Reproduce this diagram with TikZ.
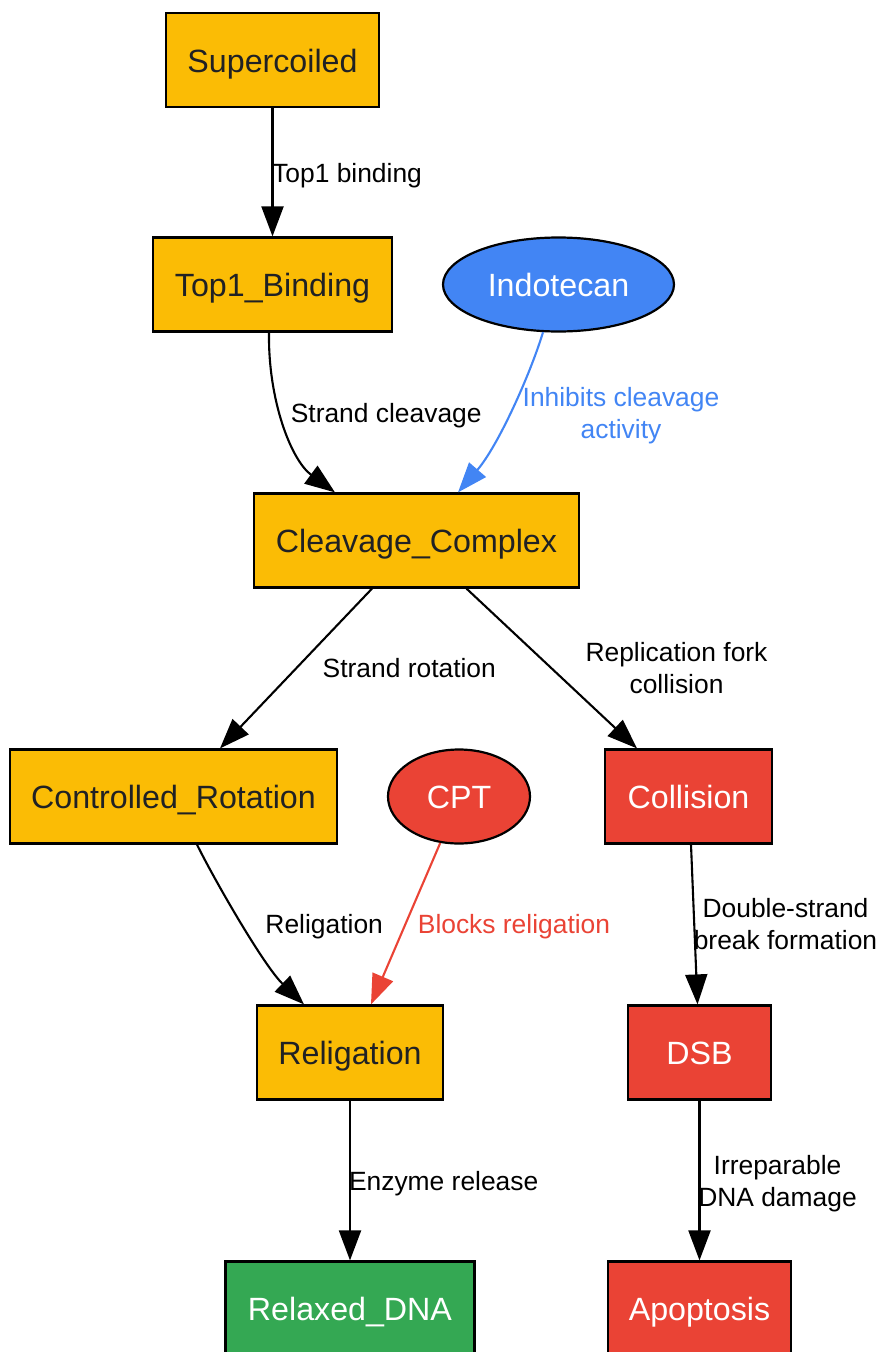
\documentclass[tikz,border=0pt]{standalone}
\usepackage{fontspec}
\setmainfont{Liberation Sans}
\usetikzlibrary{arrows.meta,shapes.geometric}
\definecolor{gorange}{HTML}{FBBC05}
\definecolor{gblue}{HTML}{4285F4}
\definecolor{gred}{HTML}{EA4335}
\definecolor{ggreen}{HTML}{34A853}
\definecolor{gtext}{HTML}{202124}
\tikzset{
  base/.style={draw=black, line width=2.2pt, inner sep=0pt,
    font=\fontsize{32.2}{38}\selectfont, text height=24.6pt, text depth=0pt,
    minimum height=94pt},
  ybox/.style={base, rectangle, fill=gorange, text=gtext},
  rbox/.style={base, rectangle, fill=gred, text=white},
  gbox/.style={base, rectangle, fill=ggreen, text=white},
  drug/.style={base, ellipse, text=white},
  edgelab/.style={inner sep=0pt, align=center, font=\fontsize{26.4}{32}\selectfont, text=black},
  conn/.style={line width=2.1pt, -{Triangle[length=30pt,width=22pt]}},
}
\begin{document}
\begin{tikzpicture}[x=1pt,y=-1pt]
\useasboundingbox (0,0) rectangle (879,1352);
% nodes
\node[ybox, minimum width=213pt] (sup) at (272.5,60) {Supercoiled};
\node[ybox, minimum width=239pt] (top1) at (272.5,284.5) {Top1\_Binding};
\node[drug, fill=gblue, minimum width=231pt] (indo) at (558.5,284.5) {Indotecan};
\node[ybox, minimum width=325pt] (cleav) at (416.5,540.5) {Cleavage\_Complex};
\node[ybox, minimum width=327pt] (rot) at (173.5,796.5) {Controlled\_Rotation};
\node[drug, fill=gred, minimum width=142pt] (cpt) at (459,796.5) {CPT};
\node[rbox, minimum width=167pt] (coll) at (688.5,796.5) {Collision};
\node[ybox, minimum width=186pt] (rel) at (350,1052.5) {Religation};
\node[rbox, minimum width=143pt] (dsb) at (699.5,1052.5) {DSB};
\node[gbox, minimum width=249pt] (relax) at (350,1308.5) {Relaxed\_DNA};
\node[rbox, minimum width=183pt] (apop) at (699.5,1308.5) {Apoptosis};
% connectors
\draw[conn] (sup.south) -- (top1.north);
\draw[conn] ([xshift=-3.5pt]top1.south) .. controls (268,400) and (291,460) .. ([xshift=-81.5pt]cleav.north);
\draw[conn, gblue] (indo.-108) .. controls (530,375) and (498,446) .. ([xshift=41.5pt]cleav.north);
\draw[conn] ([xshift=-44.5pt]cleav.south) -- ([xshift=46.5pt]rot.north);
\draw[conn] ([xshift=50pt]cleav.south) -- ([xshift=-51.5pt]coll.north);
\draw[conn] ([xshift=23.5pt]rot.south) .. controls (215,881) and (264,966) .. ([xshift=-46pt]rel.north);
\draw[conn, gred] (cpt.-112.5) -- ([xshift=21pt]rel.north);
\draw[conn] ([xshift=2.5pt]coll.south) -- ([xshift=-2pt]dsb.north);
\draw[conn] (dsb.south) -- (apop.north);
\draw[conn] (rel.south) -- (relax.north);
% labels
\node[edgelab, anchor=west] (l1) at (272,175.9) {\strut Top1 binding};
\node[edgelab] (l2) at (386.2,415.9) {\strut Strand cleavage};
\node[edgelab, text=gblue] (l3) at (621,415.6) {\strut Inhibits cleavage\\\strut activity};
\node[edgelab] (l4) at (409.3,671.3) {\strut Strand rotation};
\node[edgelab] (l5) at (676.5,671.3) {\strut Replication fork\\\strut collision};
\node[edgelab] (l6) at (324.2,926.6) {\strut Religation};
\node[edgelab, text=gred] (l7) at (514,926.6) {\strut Blocks religation};
\node[edgelab] (l8) at (785.5,927.3) {\strut Double-strand\\\strut break formation};
\node[edgelab] (l9) at (443.7,1183.6) {\strut Enzyme release};
\node[edgelab] (l10) at (777.5,1183.6) {\strut Irreparable\\\strut DNA damage};
\end{tikzpicture}
\end{document}
